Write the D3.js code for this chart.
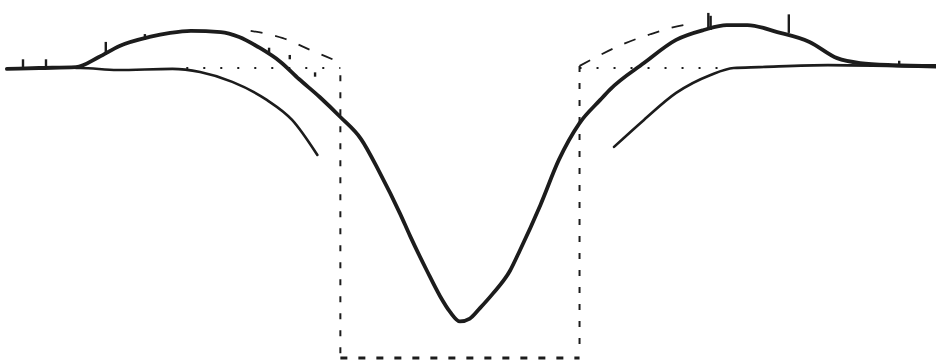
<!DOCTYPE html>
<html>
<head>
<meta charset="utf-8">
<script src="https://cdn.jsdelivr.net/npm/d3@7"></script>
<style>
  html, body { margin: 0; padding: 0; background: #fff; }
  svg { display: block; }
</style>
</head>
<body>
<div class="profile-container"></div>
<script>
// wavelength offset (arbitrary units) and relative intensity (continuum = 1)
const obsX = [-1.97, -1.83, -1.67, -1.57, -1.48, -1.35, -1.26, -1.17, -1.04, -0.96, -0.87, -0.78, -0.70, -0.61, -0.52,
  -0.43, -0.35, -0.26, -0.217, -0.143, -0.087, -0.043, 0, 0.043, 0.087, 0.143, 0.217, 0.26, 0.35, 0.43, 0.52, 0.61, 0.65, 0.80,
  0.94, 1.06, 1.16, 1.25, 1.38, 1.52, 1.64, 1.74, 1.88, 2.07];
const obsI = [0.997, 1.0, 1.003, 1.038, 1.076, 1.107, 1.121, 1.128, 1.124, 1.107, 1.069, 1.021, 0.962, 0.900, 0.831,
  0.755, 0.641, 0.497, 0.421, 0.300, 0.214, 0.159, 0.126, 0.136, 0.172, 0.222, 0.300, 0.370, 0.528, 0.683, 0.810, 0.890, 0.924, 1.017,
  1.097, 1.131, 1.148, 1.148, 1.124, 1.090, 1.034, 1.017, 1.010, 1.007];

// lower wings (continuum-corrected)
const lowLeftX = [-1.67, -1.65, -1.49, -1.25, -1.13, -0.99, -0.84, -0.73, -0.62];
const lowLeftI = [1.0, 1.0, 0.993, 0.997, 0.986, 0.952, 0.890, 0.821, 0.700];
const lowRightX = [0.67, 0.80, 0.94, 1.09, 1.19, 1.30, 1.60, 2.07];
const lowRightI = [0.728, 0.821, 0.914, 0.976, 1.0, 1.003, 1.010, 1.003];

// dashed extrapolated envelope
const envLeftX = [-0.91, -0.77, -0.65, -0.53, -0.52];
const envLeftI = [1.128, 1.103, 1.062, 1.021, 1.017];
const envRightX = [0.52, 0.61, 0.72, 0.83, 0.93, 1.0];
const envRightI = [1.007, 1.045, 1.086, 1.117, 1.141, 1.152];

// dotted continuum segments and box limits
const contLeft = [-1.19, -0.52];
const contRight = [0.52, 1.12];
const boxX = [-0.52, 0.52];
const boxTop = [0.975, 1.007];

// noise spikes on the observed trace
const spikeX = [-1.90, -1.80, -1.54, -1.37, -0.83, -0.74, -0.63, 1.08, 1.09, 1.43, 1.91];
const spikeBase = [1.0, 1.003, 1.045, 1.097, 1.055, 1.03, 0.97, 1.131, 1.131, 1.121, 1.01];
const spikeTop = [1.03, 1.03, 1.09, 1.117, 1.07, 1.045, 0.985, 1.19, 1.18, 1.185, 1.025];

const svg_width = 936;
const svg_height = 362;

const xScale = d3.scaleLinear([-2, 2.07], [0, svg_width]);
const yScale = d3.scaleLinear([0, 1], [358, 68]);

const svg = d3.select('.profile-container').append('svg')
  .attr('width', svg_width).attr('height', svg_height);

const zipXY = (xs, ys) => xs.map((x, i) => [x, ys[i]]);

const line = d3.line()
  .x(d => xScale(d[0])).y(d => yScale(d[1]))
  .curve(d3.curveMonotoneX);

const straight = d3.line().x(d => xScale(d[0])).y(d => yScale(d[1]));

const ink = '#1c1c1c';

// box (dashed verticals + bottom)
boxX.forEach((x, i) => {
  svg.append('path')
    .attr('d', straight([[x, boxTop[i]], [x, 0.01]]))
    .attr('fill', 'none').attr('stroke', ink)
    .attr('stroke-width', 2).attr('stroke-dasharray', '6,11');
});
svg.append('path')
  .attr('d', straight([[boxX[0], 0], [boxX[1], 0]]))
  .attr('fill', 'none').attr('stroke', ink)
  .attr('stroke-width', 3).attr('stroke-dasharray', '7,11');

// dotted continuum
[contLeft, contRight].forEach(c => {
  svg.append('path')
    .attr('d', straight([[c[0], 1], [c[1], 1]]))
    .attr('fill', 'none').attr('stroke', ink)
    .attr('stroke-width', 2.2).attr('stroke-dasharray', '2,15');
});

// dashed envelope
[[envLeftX, envLeftI], [envRightX, envRightI]].forEach(e => {
  svg.append('path')
    .attr('d', line(zipXY(e[0], e[1])))
    .attr('fill', 'none').attr('stroke', ink)
    .attr('stroke-width', 1.8).attr('stroke-dasharray', '12,13');
});

// lower wings
[[lowLeftX, lowLeftI], [lowRightX, lowRightI]].forEach(w => {
  svg.append('path')
    .attr('d', line(zipXY(w[0], w[1])))
    .attr('fill', 'none').attr('stroke', ink)
    .attr('stroke-width', 2.6).attr('stroke-linecap', 'round');
});

// observed profile
svg.append('path')
  .attr('d', line(zipXY(obsX, obsI)))
  .attr('fill', 'none').attr('stroke', ink)
  .attr('stroke-width', 3.8).attr('stroke-linejoin', 'round').attr('stroke-linecap', 'round');

// spikes
svg.append('g').selectAll('line').data(spikeX).join('line')
  .attr('x1', d => xScale(d)).attr('x2', d => xScale(d))
  .attr('y1', (d, i) => yScale(spikeBase[i]))
  .attr('y2', (d, i) => yScale(spikeTop[i]))
  .attr('stroke', ink).attr('stroke-width', 2.4);
</script>
</body>
</html>
